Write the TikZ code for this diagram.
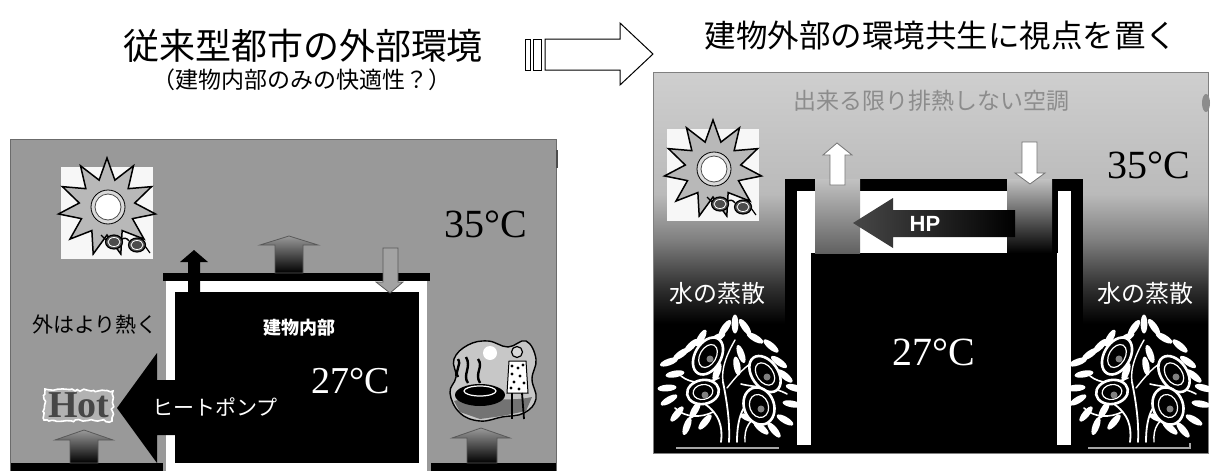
\documentclass[tikz,border=0pt]{standalone}
\usepackage{fontspec}
\setmainfont{Liberation Serif}
\newfontfamily\jp{Noto Sans CJK JP}
\newfontfamily\hpfont{Liberation Sans}
\usetikzlibrary{shapes.geometric, decorations.pathmorphing}

% sky of the right-hand panel: light grey above, black near the ground
\pgfdeclareverticalshading{rpanelshade}{100bp}{color(0bp)=(black); color(42bp)=(black); color(47bp)=(black!80); color(53bp)=(black!50); color(59bp)=(black!27); color(75bp)=(black!19); color(100bp)=(black!19)}

\tikzset{
  jp/.style={inner sep=0pt, font=\jp\fontsize{#1}{#1}\selectfont},
  sr/.style={inner sep=0pt, font=\fontsize{#1}{#1}\selectfont},
  heatup/.style={top color=black!40, bottom color=black, draw=black!65, line width=0.8pt},
  coolin/.style={fill=black!36, draw=black!65, line width=0.8pt},
  whitearrow/.style={fill=white, draw=black!55, line width=0.8pt},
  ventleft/.style={top color=black!24, bottom color=black!62},
  ventright/.style={top color=black!24, bottom color=black},
  leaf/.style={fill=white},
  % sun with sunglasses, box 92 x 92 from its top-left corner
  sunclip/.pic={
    \fill[black!3] (0,0) rectangle (92,92);
    \node[star, star points=11, star point ratio=1.75, minimum size=98pt, inner sep=0pt,
          draw=black, line width=1.5pt, fill=black!28] at (46,40) {};
    \draw[black, line width=0.8pt, fill=black!15] (47,40) circle (17);
    \draw[black!70, line width=0.8pt, fill=white] (47,40) circle (13);
    \draw[black, line width=1.4pt] (60,73) .. controls (63,70) and (66,71) .. (68,74);
    \draw[black, line width=1.2pt, fill=black!70] (53,75) ellipse (8.5 and 7);
    \draw[black, line width=1.2pt, fill=black!70] (76,78) ellipse (8.5 and 7);
    \draw[white, line width=0.8pt] (53,75) ellipse (6 and 4.5);
    \draw[white, line width=0.8pt] (76,78) ellipse (6 and 4.5);
    \draw[black, line width=1.2pt] (45,73) -- (40,68);
    \draw[black, line width=1.2pt] (84,79) -- (89,86);
  },
  % tree drawn in white lines on a dark ground, 140 x 125
  treeclip/.pic={
    \begin{scope}[white, line cap=round]
      \draw[line width=1.8pt] (60,124) .. controls (62,108) and (58,96) .. (44,86);
      \draw[line width=1.8pt] (68,124) .. controls (69,104) and (66,84) .. (62,64);
      \draw[line width=1.8pt] (76,124) .. controls (76,104) and (80,88) .. (92,80);
      \draw[line width=1.4pt] (84,124) .. controls (83,110) and (88,100) .. (104,96);
      \draw[line width=1.4pt] (62,64) .. controls (60,50) and (66,36) .. (74,22);
      \draw[line width=1.4pt] (66,70) .. controls (74,60) and (82,50) .. (92,44);
      \draw[line width=1.6pt] (20,58) .. controls (30,66) and (44,66) .. (58,60);
      \draw[line width=1.6pt] (14,90) .. controls (24,100) and (40,100) .. (52,94);
      \draw[line width=1.6pt] (80,66) .. controls (96,70) and (112,68) .. (126,76);
      \foreach \lx/\ly/\la in {74/6/0, 64/10/-35, 84/9/35, 56/20/-60, 94/20/60, 30/28/-45, 40/20/-30,
                              8/44/-70, 14/56/-80, 6/70/-85, 8/82/-60, 16/96/-40, 26/108/-20,
                              124/58/50, 134/70/75, 131/86/80, 124/102/60, 113/112/40,
                              80/36/20, 34/92/-30, 110/28/50, 118/44/55, 20/36/-55,
                              88/100/70, 100/110/50, 44/104/-40, 76/48/10, 56/54/-20}{
        \fill[leaf, rotate around={\la:(\lx,\ly)}] (\lx,\ly) ellipse (3.4 and 9.5);
      }
      \foreach \cx/\cy/\ang/\ra/\rb in {47/38/-30/13/20, 104/56/35/13/20, 98/88/20/15/19, 42/74/10/16/12}{
        \draw[line width=2.6pt, fill=black, rotate around={\ang:(\cx,\cy)}] (\cx,\cy) ellipse ({\ra} and {\rb});
        \draw[line width=1.2pt, rotate around={\ang:(\cx,\cy)}] (\cx,\cy) ellipse ({0.62*\ra} and {0.62*\rb});
        \fill[black!50] (\cx+2,\cy+3) circle (3.5);
      }
    \end{scope}
  },
  % barbecue scene in a cloud, 92 x 86
  bbqclip/.pic={
    \draw[black, line width=1.4pt, fill=black!22] plot[smooth cycle, tension=0.7] coordinates
      {(8,22) (22,8) (42,4) (62,10) (80,4) (90,22) (86,42) (90,62) (78,76) (56,80) (34,84) (14,76) (4,56) (10,40)};
    \fill[black!55] (8,64) .. controls (30,58) and (60,66) .. (86,60) -- (80,74) -- (56,79) -- (34,82) -- (14,75) -- cycle;
    \fill[white] (44,16) circle (7);
    \fill[black] (34,58) ellipse (25 and 11);
    \draw[white, line width=1.2pt] (34,54) ellipse (16 and 5);
    \draw[black, line width=2.4pt] (22,46) .. controls (16,38) and (26,30) .. (20,20);
    \draw[black, line width=2.4pt] (34,46) .. controls (28,36) and (38,30) .. (32,22);
    \draw[black, line width=2.4pt] (12,40) .. controls (8,34) and (16,28) .. (12,22);
    \draw[black, line width=1.2pt, fill=black!15] (71,15) circle (5.5);
    \draw[black, line width=1pt, fill=white] (63,24) -- (80,24) -- (82,56) -- (61,56) -- cycle;
    \foreach \px/\py in {66/29, 72/31, 77/28, 66/37, 74/39, 68/45, 78/46, 65/51, 73/52}{
      \fill[black] (\px,\py) circle (1.6);
    }
    \draw[black, line width=1.8pt] (66,56) -- (66,82);
    \draw[black, line width=1.8pt] (76,56) -- (78,82);
  }
}

\begin{document}
\begin{tikzpicture}[x=1pt, y=-1pt]
\path[use as bounding box, fill=white] (0,0) rectangle (1211,471);

% ---------- titles and the arrow between them ----------
\node (ttlL) [jp=36] at (303,46) {従来型都市の外部環境};
\node (subL) [jp=23] at (302,80) {（建物内部のみの快適性？）};
\node (ttlR) [jp=31.5] at (941,36) {建物外部の環境共生に視点を置く};

\draw[black, line width=1pt, fill=white] (525,39) rectangle (530,70);
\draw[black, line width=1pt, fill=white] (533,39) rectangle (541,70);
\draw[black, line width=1pt, fill=white, line join=miter]
  (545,39) -- (620,39) -- (620,23) -- (653,54) -- (620,85) -- (620,70) -- (545,70) -- cycle;

% ---------- conventional city ----------
\fill[black!40] (10,139) rectangle (556,475);
\draw[black!58, line width=0.8pt] (10,475) -- (10,139) -- (556,139) -- (556,475);
\draw[black!70, line width=1.6pt] (557,150) -- (557,168);

% building
\fill[black] (163,273) rectangle (430,281);
\fill[white] (166,281) rectangle (427,475);
\fill[black] (175,292) rectangle (419,463);
\fill[black] (11,463) rectangle (163,475);
\fill[black] (431,463) rectangle (556,475);

% heat leaving through the roof and rising from the street
\path[heatup] (275,273) -- (275,245) -- (260,245) -- (289,236) -- (318,245) -- (303,245) -- (303,273) -- cycle;
\path[heatup] (70,463) -- (70,440) -- (55,440) -- (84,430) -- (113,440) -- (98,440) -- (98,463) -- cycle;
\path[heatup] (467,463) -- (467,438) -- (452,438) -- (481,428) -- (510,438) -- (497,438) -- (497,463) -- cycle;
\path[coolin] (383,248) -- (398,248) -- (398,282) -- (403,282) -- (390,293) -- (376,282) -- (383,282) -- cycle;
\fill[black] (188,292) -- (188,262) -- (180,262) -- (194,250) -- (208,262) -- (200,262) -- (200,292) -- cycle;

% heat pump
\fill[black] (117,408) -- (157,353) -- (157,380) -- (178,380) -- (178,435) -- (157,435) -- (157,463) -- cycle;

% pictures
\pic at (61,167) {sunclip};
\pic at (446,337) {bbqclip};
\draw[white, line width=1.6pt, fill=black!30, decorate,
      decoration={random steps, segment length=3pt, amplitude=1.3pt}]
  (45,389) -- (113,391) -- (112,421) -- (44,420) -- cycle;
\node (hot) [inner sep=0pt, font=\fontsize{38}{38}\selectfont\bfseries, text=black!72] at (79,405) {Hot};

% texts
\node (tL35) [sr=40] at (486,224) {35°C};
\node (tL27) [sr=38, text=white] at (351,381) {27°C};
\node (hotter) [jp=21] at (95,325) {外はより熱く};
\node (inside) [jp=18, text=white, font=\jp\bfseries\fontsize{18}{18}\selectfont] at (299,328) {建物内部};
\node (hpump) [jp=21, text=white] at (215,407) {ヒートポンプ};

% ---------- building in harmony with its surroundings ----------
\path[shading=rpanelshade] (653,72) rectangle (1208,453);
\draw[black!50, line width=1pt] (653,453) -- (653,72) -- (1208,72) -- (1208,453) -- cycle;
\fill[black!45] (1206,103) ellipse (4 and 9);

% building
\fill[black] (785,179) rectangle (1083,453);
\fill[white] (797,191) rectangle (1071,445);
\fill[black] (811,253) rectangle (1057,453);
\fill[black] (1052,179) rectangle (1058,253);
\path[ventleft] (815,179) rectangle (860,253);
\path[ventright] (1007,179) rectangle (1052,253);

% heat pump and air flows
\path[left color=black!72, right color=black] (853,223) -- (893,198) -- (893,210) -- (1015,210) -- (1015,237) -- (893,237) -- (893,248) -- cycle;
\node (hp) [inner sep=0pt, text=white, font=\hpfont\bfseries\fontsize{22}{22}\selectfont] at (925,224) {HP};
\path[whitearrow] (830,185) -- (830,155) -- (823,155) -- (837,143) -- (852,155) -- (845,155) -- (845,185) -- cycle;
\path[whitearrow] (1022,142) -- (1037,142) -- (1037,173) -- (1045,173) -- (1030,184) -- (1015,173) -- (1022,173) -- cycle;

% pictures
\pic at (667,129) {sunclip};
\pic at (661,318) {treeclip};
\pic at (1070,318) {treeclip};
\draw[black!35, line width=2pt] (676,448) -- (779,448);
\draw[black!35, line width=2pt] (1088,448) -- (1190,448) -- (1190,443);

% texts
\node (aircon) [jp=23, text=black!45] at (931,101) {出来る限り排熱しない空調};
\node (tR35) [sr=40] at (1149,165) {35°C};
\node (tR27) [sr=40, text=white] at (934,352) {27°C};
\node (evapL) [jp=24, text=white] at (717,293) {水の蒸散};
\node (evapR) [jp=24, text=white] at (1145,293) {水の蒸散};
\end{tikzpicture}
\end{document}
